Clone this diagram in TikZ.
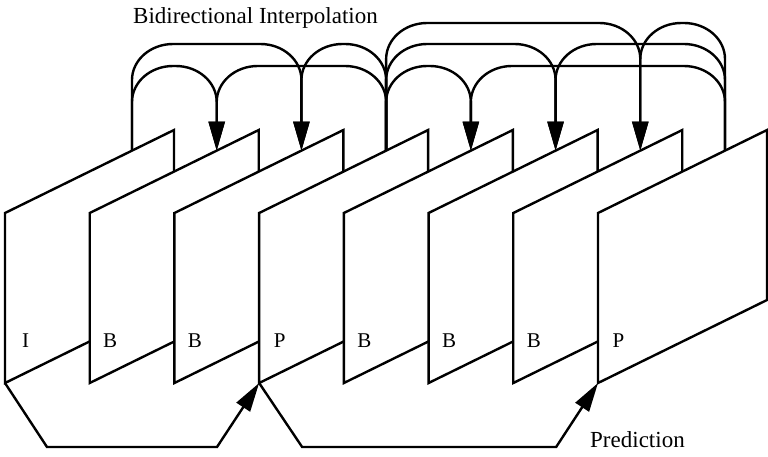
\documentclass[tikz,border=0pt]{standalone}
\usepackage{fontspec}
\setmainfont{Liberation Serif}
\usetikzlibrary{arrows.meta,calc}
\newcommand\myarch[3]{%
  \draw[arr] let \p1=(#1), \p2=(#2), \n1={sign(\x2-\x1)} in
   (\p1) -- ({\x1},{-(#3+36)*1pt})
   .. controls ({\x1},{-(#3+16.1)*1pt}) and ({\x1+\n1*18.4pt},{-(#3)*1pt}) .. ({\x1+\n1*41pt},{-(#3)*1pt})
   -- ({\x2-\n1*41pt},{-(#3)*1pt})
   .. controls ({\x2-\n1*18.4pt},{-(#3)*1pt}) and ({\x2},{-(#3+16.1)*1pt}) .. ({\x2},{-(#3+36)*1pt})
   -- (\p2);}
\begin{document}
\begin{tikzpicture}[x=1pt,y=-1pt,
  conn/.style={line width=2.4pt},
  arr/.style={conn,-{Triangle[length=29pt,width=16pt]}},
  frame/.style={line width=2.4pt,fill=white,draw=black},
  lbl/.style={anchor=base,inner sep=0pt,font=\fontsize{21}{25}\selectfont},
  txt/.style={anchor=base west,inner sep=0pt,font=\fontsize{23}{27}\selectfont}]
\useasboundingbox (0,0) rectangle (768,456);
\foreach \i/\t in {1/I,2/B,3/B,4/P,5/B,6/B,7/B,8/P}{
  \pgfmathsetmacro\L{5+84.714*(\i-1)}
  \filldraw[frame] (\L,383) -- (\L,213) -- (\L+169,130) -- (\L+169,300) -- cycle;
  \coordinate (bl\i) at (\L,383);
  \coordinate (v\i) at (\L+127,150.63);
  \node[lbl] (l\i) at (\L+20.5,347) {\t};
}
\myarch{v1}{v2}{66}
\myarch{v1}{v3}{44}
\myarch{v4}{v2}{66}
\myarch{v4}{v3}{44}
\myarch{v4}{v5}{66}
\myarch{v4}{v6}{44}
\myarch{v4}{v7}{23}
\myarch{v8}{v5}{66}
\myarch{v8}{v6}{44}
\myarch{v8}{v7}{23}
\draw[arr] (bl1) -- ++(42,64) -- ++(170,0) -- (bl4);
\draw[arr] (bl4) -- ++(43,64) -- ++(254,0) -- (bl8);
\node[txt] (title) at (133,23) {Bidirectional Interpolation};
\node[txt] (pred) at (590,447) {Prediction};
\end{tikzpicture}
\end{document}
